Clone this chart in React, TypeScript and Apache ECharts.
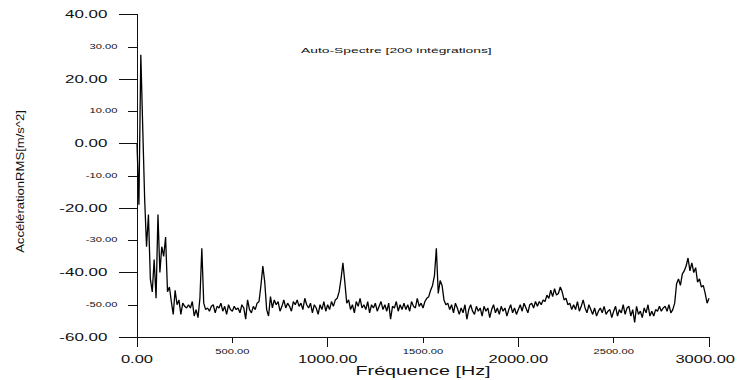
import React, { useEffect, useRef } from 'react';
import * as echarts from 'echarts';

// Auto-spectrum, one value every 10 Hz from 0 to 3000 Hz (dB re 1 m/s^2 RMS)
const FREQ_STEP_HZ = 10;
const spectrumDb: number[] = [
  // 0 - 90 Hz
  0, -19, 27.5, 5, -17, -32, -22, -42, -46, -36,
  // 100 - 190 Hz
  -48, -22, -40, -32, -35, -29, -46, -44.5, -49, -53,
  // 200 - 290 Hz
  -45.5, -50, -48.5, -53, -49.5, -50.5, -51, -50, -51, -49,
  // 300 - 390 Hz
  -53.5, -51.5, -54, -48, -32.5, -49.5, -51.5, -51, -52, -50.5,
  // 400 - 490 Hz
  -50, -52.5, -50.5, -51, -49.5, -52, -50.5, -53, -50, -51.5,
  // 500 - 590 Hz
  -52, -50.5, -51.5, -51, -52.5, -50, -51, -54.5, -48.5, -51.5,
  // 600 - 690 Hz
  -52.5, -50.5, -51.5, -49.5, -49, -44, -38, -43, -51.5, -53.5,
  // 700 - 790 Hz
  -47.5, -51, -48.5, -50, -49, -52, -50.5, -48.5, -51, -49.5,
  // 800 - 890 Hz
  -50.5, -52, -49, -50, -48.5, -50.5, -49.5, -51.5, -48, -50,
  // 900 - 990 Hz
  -51, -49.5, -52.5, -50, -51, -53, -50, -51.5, -49, -52,
  // 1000 - 1090 Hz
  -50, -51.5, -49, -50.5, -48.5, -48, -46, -42, -37, -43,
  // 1100 - 1190 Hz
  -49.5, -48.5, -51.5, -50, -52.5, -49, -50.5, -48, -51, -50,
  // 1200 - 1290 Hz
  -51.5, -49, -52.5, -50, -51, -49.5, -52, -50.5, -49, -51.5,
  // 1300 - 1390 Hz
  -50, -52, -49.5, -54.5, -50.5, -51, -49, -52, -50, -51.5,
  // 1400 - 1490 Hz
  -49.5, -51.5, -50, -52, -49, -50.5, -51, -48, -50.5, -49.5,
  // 1500 - 1590 Hz
  -51, -49, -48, -47.5, -45.5, -44, -41, -32.5, -46.5, -42.5,
  // 1600 - 1690 Hz
  -44, -48.5, -50, -49.5, -51.5, -50, -52.5, -49.5, -51, -53,
  // 1700 - 1790 Hz
  -51, -52.5, -50, -54.5, -51.5, -50, -52, -53, -50.5, -52,
  // 1800 - 1890 Hz
  -51, -53.5, -50.5, -52, -51, -54, -51.5, -50, -52.5, -51,
  // 1900 - 1990 Hz
  -53, -50.5, -52, -51, -53.5, -51.5, -50, -52.5, -51, -53,
  // 2000 - 2090 Hz
  -51.5, -50, -52, -49.5, -51, -52.5, -50, -49.5, -51, -49,
  // 2100 - 2190 Hz
  -50.5, -49, -50, -48.5, -49, -47, -48, -45.5, -47.5, -45,
  // 2200 - 2290 Hz
  -47, -46.5, -44.5, -46, -48.5, -48, -50, -49.5, -51.5, -50,
  // 2300 - 2390 Hz
  -51.5, -49, -52, -50.5, -48.5, -51, -52.5, -50, -51.5, -53,
  // 2400 - 2490 Hz
  -51, -53.5, -52, -51, -52.5, -50.5, -53, -52, -51.5, -54,
  // 2500 - 2590 Hz
  -52, -50.5, -53.5, -51.5, -52.5, -50, -53, -51, -50.5, -53.5,
  // 2600 - 2690 Hz
  -51.5, -55.5, -50.5, -53, -52, -54, -51, -52.5, -50, -53.5,
  // 2700 - 2790 Hz
  -52, -53.5, -51.5, -52, -50.5, -52, -51, -50.5, -52, -50,
  // 2800 - 2890 Hz
  -52.5, -51.5, -49.5, -43.5, -42, -44, -40.5, -39.5, -38, -35.5,
  // 2900 - 2990 Hz
  -39.5, -37, -40, -38.5, -43, -42, -44.5, -44, -46.5, -49.5,
  // 3000 Hz
  -48,
];

const xMajorTicks = [0, 1000, 2000, 3000];
const xMinorTicks = [500, 1500, 2500];
const yMajorTicks = [-60, -40, -20, 0, 20, 40];
const yMinorTicks = [-50, -30, -10, 10, 30];

const chartTitle = 'Auto-Spectre [200 intégrations]';
const xTitle = 'Fréquence [Hz]';
const yTitle = 'AccélérationRMS[m/s^2]';

const FONT = '"Liberation Sans", Arial, Helvetica, sans-serif';
const INK = '#111';
const CANVAS_W = 737;
const CANVAS_H = 380;

const fmt = (v: number) => v.toFixed(2);

export default function App() {
  const ref = useRef<HTMLDivElement>(null);

  useEffect(() => {
    const el = ref.current;
    if (!el) return;
    const chart = echarts.init(el, null, { renderer: 'svg' });

    const lineAxis = { show: true, onZero: false, lineStyle: { color: INK, width: 1 } };
    const noLabel = { show: false };
    const noSplit = { show: false };

    chart.setOption({
      animation: false,
      backgroundColor: '#fff',
      grid: { left: 137, right: 28, top: 14.5, bottom: 43, containLabel: false },
      xAxis: [
        {
          type: 'value', min: 0, max: 3000, interval: 500, position: 'bottom',
          axisLine: lineAxis,
          axisTick: { show: true, length: 6, lineStyle: { color: INK, width: 1 } },
          axisLabel: noLabel, splitLine: noSplit,
        },
        {
          type: 'value', min: 0, max: 3000, interval: 1000, position: 'bottom', offset: 0,
          axisLine: lineAxis,
          axisTick: { show: true, length: 10, lineStyle: { color: INK, width: 1 } },
          axisLabel: noLabel, splitLine: noSplit,
        },
      ],
      yAxis: [
        {
          type: 'value', min: -60, max: 40, interval: 10, position: 'left',
          axisLine: lineAxis,
          axisTick: { show: true, length: 9, lineStyle: { color: INK, width: 1 } },
          axisLabel: noLabel, splitLine: noSplit,
        },
        {
          type: 'value', min: -60, max: 40, interval: 20, position: 'left', offset: 0,
          axisLine: lineAxis,
          axisTick: { show: true, length: 18, lineStyle: { color: INK, width: 1 } },
          axisLabel: noLabel, splitLine: noSplit,
        },
      ],
      series: [
        {
          type: 'line',
          xAxisIndex: 0,
          yAxisIndex: 0,
          data: spectrumDb.map((v, i) => [i * FREQ_STEP_HZ, v]),
          showSymbol: false,
          symbol: 'none',
          lineStyle: { color: '#000', width: 1.3 },
          silent: true,
        },
      ],
    });

    const px = (v: number) => chart.convertToPixel({ xAxisIndex: 0 }, v) as number;
    const py = (v: number) => chart.convertToPixel({ yAxisIndex: 0 }, v) as number;

    // Wide, stretched Arial-like labels
    const label = (
      text: string, x: number, y: number, size: number, sx: number,
      align: 'left' | 'center' | 'right', extra: Record<string, unknown> = {}
    ) => ({
      type: 'text',
      x, y, scaleX: sx,
      silent: true,
      ...extra,
      style: {
        text, fontSize: size, fontFamily: FONT, fill: INK,
        align, verticalAlign: 'middle',
      },
    });

    // Keep the rightmost tick label inside the canvas
    const xMajorLabel = (v: number) => {
      const text = fmt(v);
      const sx = 1.65;
      const half = (echarts.format.getTextRect
        ? (echarts.format as any).getTextRect?.(text, `10px ${FONT}`)?.width
        : undefined);
      const w = (typeof half === 'number' ? half : text.length * 5.2) * sx;
      let cx = px(v);
      const maxRight = CANVAS_W - 2;
      if (cx + w / 2 > maxRight) cx = maxRight - w / 2;
      return label(text, cx, py(-60) + 22.5, 10, sx, 'center');
    };

    const x0 = px(0);
    const graphics: any[] = [
      ...yMajorTicks.map((v) => label(fmt(v), x0 - 29.5, py(v), 10, 1.7, 'right')),
      ...yMinorTicks.map((v) => label(fmt(v), x0 - 19.5, py(v), 7, 1.6, 'right')),
      ...xMajorTicks.map((v) => xMajorLabel(v)),
      ...xMinorTicks.map((v) => label(fmt(v), px(v), py(-60) + 15, 7, 1.6, 'center')),
      label(xTitle, (px(0) + px(3000)) / 2, CANVAS_H - 9, 13, 1.52, 'center'),
      label(chartTitle, 301, 50, 8, 1.73, 'left'),
      label(yTitle, 20, 181.5, 11, 1.19, 'center', { rotation: Math.PI / 2 }),
    ];
    chart.setOption({ graphic: graphics });

    return () => chart.dispose();
  }, []);

  return (
    <div
      ref={ref}
      style={{ position: 'fixed', left: 0, top: 0, width: CANVAS_W, height: CANVAS_H, background: '#fff' }}
    />
  );
}
